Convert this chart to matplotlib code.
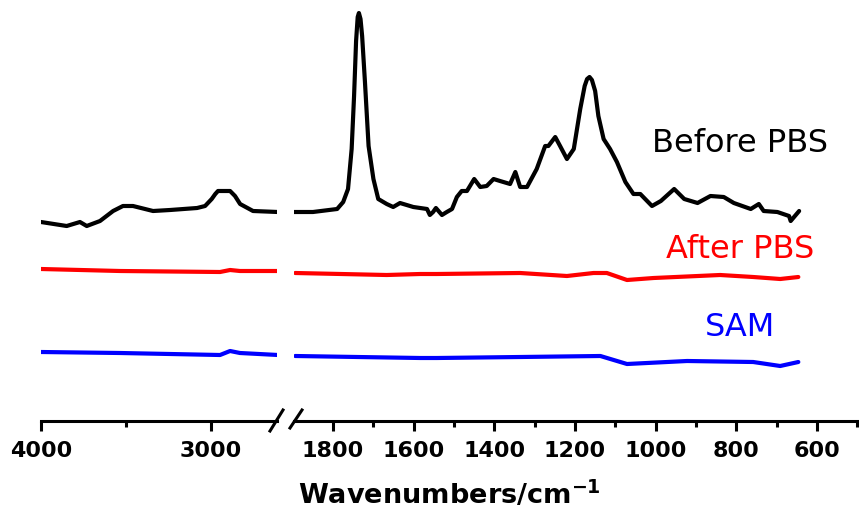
import matplotlib
matplotlib.use("Agg")
import matplotlib.pyplot as plt
from matplotlib.lines import Line2D
from matplotlib.ticker import MultipleLocator

# ---- data (offset absorbance, arbitrary units) ----
before_hi_wn = [4000, 3849, 3771, 3731, 3653, 3576, 3518, 3459, 3341, 3241,
                3082, 3035, 2996, 2975, 2959, 2888, 2859, 2829, 2753, 2606]
before_hi = [1.99, 1.95, 1.99, 1.95, 2.00, 2.10, 2.15, 2.15, 2.10, 2.11,
             2.13, 2.15, 2.22, 2.27, 2.30, 2.30, 2.25, 2.17, 2.10, 2.09]

before_lo_wn = [1899, 1850, 1790, 1775, 1763, 1754, 1748, 1743, 1739, 1736,
                1732, 1728, 1721, 1712, 1700, 1688, 1667, 1651, 1634, 1601,
                1567, 1560, 1552, 1545, 1530, 1518, 1505, 1493, 1481, 1468,
                1450, 1435, 1419, 1402, 1386, 1361, 1348, 1336, 1319, 1295,
                1274, 1266, 1249, 1237, 1220, 1203, 1187, 1176, 1170, 1164,
                1158, 1150, 1142, 1129, 1113, 1096, 1075, 1055, 1038, 1009,
                987, 954, 929, 896, 864, 831, 806, 764, 744, 732,
                698, 669, 665, 644]
before_lo = [2.09, 2.09, 2.12, 2.19, 2.32, 2.72, 3.25, 3.80, 4.04, 4.08,
             4.02, 3.85, 3.39, 2.75, 2.42, 2.22, 2.17, 2.14, 2.18, 2.14,
             2.12, 2.06, 2.09, 2.13, 2.06, 2.09, 2.12, 2.24, 2.30, 2.30,
             2.42, 2.34, 2.35, 2.42, 2.40, 2.37, 2.49, 2.34, 2.34, 2.52,
             2.75, 2.75, 2.84, 2.75, 2.62, 2.72, 3.12, 3.35, 3.42, 3.44,
             3.41, 3.30, 3.05, 2.82, 2.72, 2.59, 2.39, 2.27, 2.27, 2.15,
             2.20, 2.32, 2.22, 2.18, 2.25, 2.24, 2.18, 2.12, 2.17, 2.10,
             2.09, 2.05, 2.00, 2.10]

after_hi_wn = [4000, 3535, 2947, 2888, 2830, 2606]
after_hi = [1.52, 1.50, 1.49, 1.51, 1.50, 1.50]
after_lo_wn = [1894, 1667, 1584, 1543, 1336, 1220, 1154, 1121, 1071, 1005,
               840, 758, 691, 646]
after_lo = [1.48, 1.46, 1.47, 1.47, 1.48, 1.45, 1.48, 1.48, 1.41, 1.43,
            1.46, 1.44, 1.42, 1.44]

sam_hi_wn = [4000, 3535, 2947, 2888, 2830, 2606]
sam_hi = [0.69, 0.68, 0.66, 0.70, 0.68, 0.66]
sam_lo_wn = [1894, 1584, 1543, 1336, 1137, 1071, 922, 758, 691, 646]
sam_lo = [0.65, 0.63, 0.63, 0.64, 0.65, 0.57, 0.60, 0.59, 0.55, 0.59]

series = [
    ("Before PBS", "black", before_hi_wn, before_hi, before_lo_wn, before_lo, 2.79),
    ("After PBS", "#ff0000", after_hi_wn, after_hi, after_lo_wn, after_lo, 1.73),
    ("SAM", "#0000ff", sam_hi_wn, sam_hi, sam_lo_wn, sam_lo, 0.94),
]

fig = plt.figure(figsize=(8.59, 5.10), dpi=100)
ax1 = fig.add_axes([41 / 859, 88 / 510, 236 / 859, 422 / 510])
ax2 = fig.add_axes([294 / 859, 88 / 510, 564 / 859, 422 / 510])

for name, col, xh, yh, xl, yl, ty in series:
    ax1.plot(xh, yh, color=col, lw=3, solid_joinstyle="round", solid_capstyle="round")
    ax2.plot(xl, yl, color=col, lw=3, solid_joinstyle="round", solid_capstyle="round")
    ax2.text(790, ty, name, color=col, fontsize=23, ha="center", va="center")

ax1.set_xlim(4000, 2612)
ax2.set_xlim(1897, 498)
ax1.xaxis.set_major_locator(MultipleLocator(1000))
ax1.xaxis.set_minor_locator(MultipleLocator(500))
ax2.xaxis.set_major_locator(MultipleLocator(200))
ax2.xaxis.set_minor_locator(MultipleLocator(100))

for ax in (ax1, ax2):
    ax.set_ylim(0, 4.22)
    for s in ("top", "left", "right"):
        ax.spines[s].set_visible(False)
    ax.spines["bottom"].set_linewidth(2.2)
    ax.set_yticks([])
    ax.patch.set_alpha(0)
    ax.tick_params(axis="x", which="major", length=7, width=2.2, pad=7,
                   labelsize=16)
    ax.tick_params(axis="x", which="minor", length=4, width=2.2)
    for lab in ax.get_xticklabels():
        lab.set_fontweight("bold")

# axis break marks
for x0, y0, x1, y1 in [(270, 432, 283, 411), (290, 429, 302, 411)]:
    fig.add_artist(Line2D([x0 / 859, x1 / 859], [1 - y0 / 510, 1 - y1 / 510],
                          transform=fig.transFigure, color="black", lw=2.2))

fig.text(449 / 859, 6 / 510, r"Wavenumbers/cm$^{\mathbf{-1}}$", ha="center",
         va="baseline", fontsize=19.5, fontweight="bold")

fig.savefig("out.png", dpi=100)
